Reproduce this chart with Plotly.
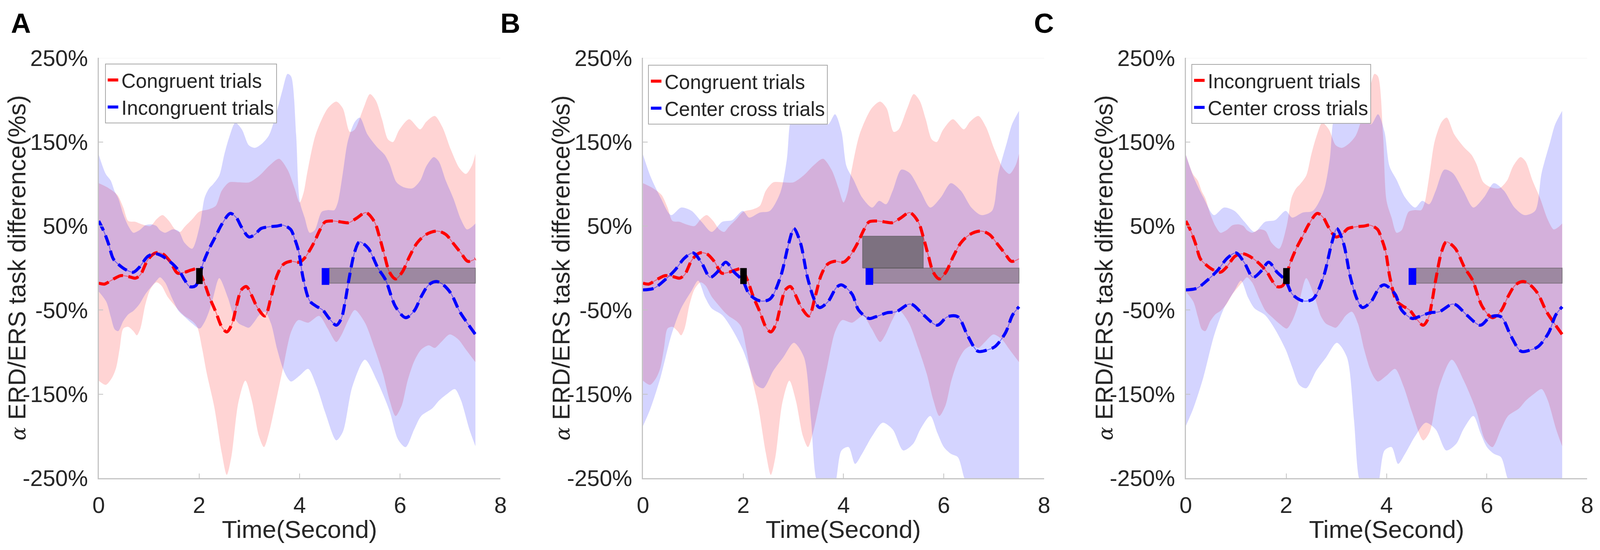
import plotly.graph_objects as go

# %%
# values: time (s) and alpha ERD/ERS task difference (%)
# congruent trials
cong_t = [0, 0.12, 0.24, 0.44, 0.59, 0.73, 0.83, 0.98, 1.13, 1.27,
          1.42, 1.57, 1.71, 1.86, 1.96, 2.08, 2.2, 2.33, 2.45, 2.55,
          2.65, 2.74, 2.84, 2.94, 3.04, 3.16, 3.31, 3.43, 3.55, 3.67,
          3.82, 4.0, 4.1, 4.2, 4.3, 4.41, 4.51, 4.66, 4.81, 4.98,
          5.15, 5.32, 5.49, 5.59, 5.69, 5.79, 5.91, 6.04, 6.19, 6.34,
          6.52, 6.74, 6.91, 7.05, 7.21, 7.35, 7.5]
cong_mean = [-18, -19, -15, -9, -10, -12, -8, 10, 18, 17,
             8, -6, -5, -2, -1, -14, -34, -52, -70, -76,
             -67, -46, -26, -22, -32, -47, -57, -35, -9, 4,
             8, 7, 12, 21, 32, 46, 55, 56, 55, 54,
             60, 66, 55, 37, 15, -5, -13, -5, 14, 30,
             40, 44, 40, 30, 18, 8, 11]
cong_up_t = [0, 0.2, 0.37, 0.49, 0.59, 0.73, 0.86, 1.03, 1.15, 1.27,
             1.4, 1.52, 1.62, 1.71, 1.86, 2.0, 2.2, 2.33, 2.45, 2.6,
             2.8, 3.0, 3.2, 3.4, 3.59, 3.76, 3.9, 4.0, 4.08, 4.15,
             4.32, 4.56, 4.73, 4.86, 5.0, 5.1, 5.27, 5.4, 5.52, 5.64,
             5.76, 5.86, 5.98, 6.18, 6.4, 6.52, 6.69, 6.84, 7.01, 7.18,
             7.31, 7.43, 7.5]
cong_up = [101, 95, 87, 72, 56, 55, 52, 50, 58, 63,
           56, 46, 43, 49, 58, 67, 70, 74, 92, 102,
           102, 102, 110, 122, 130, 117, 95, 78, 90, 113,
           159, 190, 198, 190, 162, 165, 190, 207, 199, 177,
           153, 150, 164, 177, 165, 174, 181, 168, 141, 119,
           112, 122, 136]
cong_lo_t = [0, 0.14, 0.27, 0.35, 0.42, 0.49, 0.59, 0.69, 0.76, 0.83,
             0.93, 1.03, 1.15, 1.25, 1.37, 1.49, 1.62, 1.71, 1.86, 1.96,
             2.06, 2.15, 2.3, 2.45, 2.55, 2.64, 2.78, 2.92, 3.05, 3.19,
             3.29, 3.39, 3.53, 3.67, 3.83, 3.97, 4.17, 4.39, 4.56, 4.73,
             4.83, 4.97, 5.1, 5.3, 5.49, 5.66, 5.79, 5.91, 6.03, 6.15,
             6.28, 6.42, 6.57, 6.69, 6.82, 6.99, 7.16, 7.31, 7.5]
cong_lo = [-134, -139, -130, -118, -95, -72, -70, -75, -80, -72,
           -43, -25, -17, -21, -34, -43, -52, -57, -63, -70,
           -96, -125, -165, -220, -246, -225, -160, -134, -158, -200,
           -213, -196, -158, -119, -76, -62, -65, -57, -72, -88,
           -80, -62, -50, -65, -95, -126, -157, -176, -164, -134,
           -111, -97, -92, -95, -88, -79, -85, -97, -112]

# incongruent trials
incg_t = [0, 0.1, 0.2, 0.29, 0.42, 0.54, 0.69, 0.81, 0.98, 1.13,
          1.27, 1.47, 1.62, 1.71, 1.81, 1.93, 2.08, 2.2, 2.33, 2.45,
          2.62, 2.74, 2.84, 2.99, 3.11, 3.23, 3.38, 3.55, 3.67, 3.82,
          3.9, 3.98, 4.07, 4.2, 4.32, 4.46, 4.59, 4.73, 4.83, 4.9,
          4.98, 5.1, 5.19, 5.36, 5.56, 5.71, 5.91, 6.11, 6.28, 6.42,
          6.57, 6.72, 6.84, 7.01, 7.18, 7.31, 7.5]
incg_mean = [56, 44, 28, 11, 3, -2, -5, 1, 14, 17,
             14, 5, -5, -14, -22, -21, 6, 23, 38, 52,
             65, 60, 49, 37, 40, 47, 49, 50, 51, 46,
             35, 20, -12, -39, -45, -50, -60, -68, -60, -42,
             -14, 20, 31, 24, 0, -14, -46, -59, -51, -34,
             -20, -16, -19, -30, -51, -63, -79]
incg_up_t = [0, 0.14, 0.24, 0.32, 0.39, 0.49, 0.59, 0.69, 0.81, 0.93,
             1.05, 1.15, 1.22, 1.32, 1.47, 1.59, 1.71, 1.86, 2.01, 2.11,
             2.2, 2.28, 2.4, 2.5, 2.6, 2.72, 2.85, 2.99, 3.11, 3.25,
             3.39, 3.53, 3.66, 3.76, 3.83, 3.93, 4.0, 4.1, 4.2, 4.3,
             4.44, 4.56, 4.69, 4.76, 4.86, 4.96, 5.1, 5.2, 5.35, 5.54,
             5.69, 5.79, 5.93, 6.08, 6.25, 6.4, 6.52, 6.67, 6.77, 6.91,
             7.06, 7.21, 7.33, 7.43, 7.5]
incg_up = [135, 112, 104, 91, 83, 64, 50, 42, 45, 51,
           52, 50, 45, 42, 46, 44, 30, 23, 50, 84,
           95, 100, 110, 135, 156, 173, 165, 146, 143, 148,
           158, 183, 212, 231, 228, 159, 80, 60, 42, 45,
           67, 69, 69, 78, 113, 151, 174, 179, 159, 144,
           135, 124, 102, 96, 95, 104, 121, 132, 127, 104,
           83, 58, 46, 49, 53]
incg_lo_t = [0, 0.15, 0.24, 0.32, 0.39, 0.49, 0.59, 0.69, 0.81, 0.93,
             1.05, 1.15, 1.22, 1.32, 1.47, 1.59, 1.71, 1.86, 2.01, 2.11,
             2.2, 2.28, 2.4, 2.57, 2.69, 2.79, 2.89, 2.99, 3.11, 3.18,
             3.31, 3.43, 3.55, 3.67, 3.75, 3.83, 4.0, 4.17, 4.34, 4.51,
             4.73, 4.86, 5.05, 5.3, 5.54, 5.79, 5.96, 6.11, 6.28, 6.42,
             6.64, 6.77, 6.93, 7.09, 7.21, 7.38, 7.5]
incg_lo = [-28, -40, -58, -73, -75, -63, -55, -51, -43, -31,
           -22, -15, -11, -17, -37, -51, -58, -66, -72, -64,
           -51, -35, -12, -35, -57, -66, -69, -71, -63, -57,
           -52, -66, -96, -120, -130, -135, -128, -120, -141, -172,
           -205, -195, -141, -109, -134, -170, -204, -213, -192, -176,
           -167, -158, -150, -144, -157, -192, -212]

# center cross trials
cross_t = [0, 0.22, 0.42, 0.63, 0.83, 1.0, 1.17, 1.34, 1.51, 1.65,
           1.82, 1.99, 2.12, 2.33, 2.53, 2.74, 2.91, 3.01, 3.14, 3.28,
           3.42, 3.52, 3.69, 3.86, 3.96, 4.17, 4.3, 4.51, 4.64, 4.88,
           5.05, 5.3, 5.39, 5.6, 5.87, 6.07, 6.28, 6.48, 6.68, 6.89,
           7.03, 7.23, 7.37, 7.5]
cross_mean = [-26, -24, -15, -3, 12, 18, 6, -11, -3, 7,
              -5, -15, -31, -39, -37, -11, 30, 47, 30, -11,
              -38, -47, -40, -23, -20, -31, -50, -60, -58, -53,
              -52, -43, -44, -56, -68, -58, -58, -81, -99, -97,
              -93, -77, -56, -46]
cross_up_t = [0, 0.15, 0.35, 0.56, 0.76, 0.97, 1.17, 1.37, 1.58, 1.78,
              1.99, 2.12, 2.33, 2.53, 2.74, 2.87, 2.94, 3.01, 3.28, 3.49,
              3.69, 3.83, 3.96, 4.06, 4.2, 4.37, 4.57, 4.71, 4.85, 4.98,
              5.15, 5.32, 5.53, 5.73, 5.94, 6.14, 6.34, 6.55, 6.75, 6.96,
              7.09, 7.26, 7.36, 7.5]
cross_up = [135, 109, 84, 63, 72, 68, 55, 43, 55, 57,
            68, 60, 66, 68, 90, 130, 175, 183, 179, 183,
            171, 183, 162, 121, 105, 84, 72, 80, 76, 92,
            117, 113, 92, 72, 84, 101, 92, 72, 63, 68,
            113, 150, 171, 187]
cross_lo_t = [0, 0.15, 0.35, 0.56, 0.76, 0.97, 1.1, 1.24, 1.37, 1.58,
              1.78, 1.99, 2.12, 2.26, 2.4, 2.6, 2.8, 3.01, 3.21, 3.35,
              3.45, 3.6, 3.8, 3.96, 4.1, 4.23, 4.37, 4.57, 4.78, 4.98,
              5.19, 5.39, 5.53, 5.73, 5.87, 6.0, 6.14, 6.28, 6.41, 6.6,
              6.9, 7.1, 7.3, 7.5]
cross_lo = [-188, -167, -130, -81, -48, -27, -15, -35, -48, -56,
            -73, -97, -118, -139, -143, -122, -106, -89, -106, -180,
            -250, -275, -265, -217, -213, -233, -221, -200, -184, -192,
            -217, -209, -192, -176, -196, -213, -221, -225, -250, -275,
            -285, -270, -262, -260]

# event markers [x0, x1, y0, y1]
cue_mark = [1.94, 2.07, -19, 0]
target_mark = [4.44, 4.59, -20, 0]
window_bar = [4.59, 7.5, -18, 0]
sig_box_b = [4.38, 5.59, 0, 38]

panel_letters = ["A", "B", "C"]
panel_series = [("cong", "incg"), ("cong", "cross"), ("incg", "cross")]
series_names = {"cong": "Congruent trials", "incg": "Incongruent trials",
                "cross": "Center cross trials"}
x_ticks = [0, 2, 4, 6, 8]
y_ticks = [-250, -150, -50, 50, 150, 250]
y_tick_text = ["-250%", "-150%", "-50%", "50%", "150%", "250%"]

series = {
    "cong": (cong_t, cong_mean, cong_up_t, cong_up, cong_lo_t, cong_lo),
    "incg": (incg_t, incg_mean, incg_up_t, incg_up, incg_lo_t, incg_lo),
    "cross": (cross_t, cross_mean, cross_up_t, cross_up, cross_lo_t, cross_lo),
}

# %%
# positions measured on the 4319x1409 reference, used as page fractions so
# the figure fills whatever window it is opened in
W, H = 4319, 1409
plot_left = [259, 1734, 3205]
plot_right = [1348, 2821, 4293]
plot_top, plot_bottom = 142, 1231
legend_pos = [(276, 157), (1748, 160), (3220, 158)]
ytitle_x = [37, 1512, 2983]
letter_x = [48, 1375, 2821]
S = 0.98  # scale for pixel sizes (fonts, widths)

FONT = "Liberation Sans, Arial, sans-serif"
TEXT = "#262626"
AXIS = "#c4c4c4"
colors = ["255,0,0", "0,0,255"]

fig = go.Figure()

for i, keys in enumerate(panel_series):
    n = "" if i == 0 else str(i + 1)
    xa, ya, leg = "x" + n, "y" + n, "legend" + n

    # shaded bands (lower edge, then upper edge filled down to it)
    for key, col in zip(keys, colors):
        t, m, ut, u, lt, lo = series[key]
        fig.add_trace(go.Scatter(
            x=lt, y=lo, mode="lines", xaxis=xa, yaxis=ya,
            line=dict(width=0, shape="spline", smoothing=0.8),
            showlegend=False, hoverinfo="skip"))
        fig.add_trace(go.Scatter(
            x=ut, y=u, mode="lines", xaxis=xa, yaxis=ya,
            line=dict(width=0, shape="spline", smoothing=0.8),
            fill="tonexty", fillcolor=f"rgba({col},0.17)",
            showlegend=False, hoverinfo="skip"))

    # grey window bars
    bars = [(window_bar, 0.42)]
    if i == 1:
        bars.append((sig_box_b, 0.66))
    for (x0, x1, y0, y1), a in bars:
        fig.add_trace(go.Scatter(
            x=[x0, x1, x1, x0, x0], y=[y0, y0, y1, y1, y0], mode="lines",
            xaxis=xa, yaxis=ya, fill="toself",
            fillcolor=f"rgba(80,80,80,{a})",
            line=dict(color="rgba(80,80,80,0.55)", width=2 * S),
            showlegend=False, hoverinfo="skip"))

    # mean curves: thin solid line under a thick dashed one
    for key, col in zip(keys, colors):
        t, m = series[key][0], series[key][1]
        fig.add_trace(go.Scatter(
            x=t, y=m, mode="lines", xaxis=xa, yaxis=ya,
            line=dict(color=f"rgba({col},0.45)", width=2.5 * S,
                      shape="spline", smoothing=0.9),
            showlegend=False, hoverinfo="skip"))
        fig.add_trace(go.Scatter(
            x=t, y=m, mode="lines", xaxis=xa, yaxis=ya,
            name=series_names[key], legend=leg,
            line=dict(color=f"rgb({col})", width=8 * S, dash="27px,14px",
                      shape="spline", smoothing=0.9)))

    # cue and target markers
    for (x0, x1, y0, y1), c in ((cue_mark, "black"), (target_mark, "#0000ff")):
        fig.add_shape(type="rect", xref=xa, yref=ya, x0=x0, x1=x1, y0=y0, y1=y1,
                      fillcolor=c, line_width=0, layer="above")
    # faint top frame line
    fig.add_shape(type="line", xref=xa, yref=ya, x0=0, x1=8, y0=250, y1=250,
                  line=dict(color="#efefef", width=2), layer="below")

    dom_x = [plot_left[i] / W, plot_right[i] / W]
    dom_y = [1 - plot_bottom / H, 1 - plot_top / H]
    fig.layout["xaxis" + n] = dict(
        domain=dom_x, anchor=ya, range=[0, 8], tickvals=x_ticks,
        automargin=False, showgrid=False, zeroline=False, showline=True,
        linecolor=AXIS, linewidth=3 * S, ticks="inside", ticklen=12 * S,
        tickwidth=2, tickcolor=AXIS,
        tickfont=dict(size=59 * S, color=TEXT, family=FONT),
        ticklabelstandoff=int(18 * S))
    fig.layout["yaxis" + n] = dict(
        domain=dom_y, anchor=xa, range=[-250, 250], tickvals=y_ticks,
        ticktext=y_tick_text, automargin=False, showgrid=False,
        zeroline=False, showline=True, linecolor=AXIS, linewidth=3 * S,
        ticks="inside", ticklen=12 * S, tickwidth=2, tickcolor=AXIS,
        tickfont=dict(size=59 * S, color=TEXT, family=FONT),
        ticklabelstandoff=int(14 * S))

    lx, ly = legend_pos[i]
    fig.layout[leg] = dict(
        x=lx / W, y=1 - ly / H, xanchor="left", yanchor="top",
        bgcolor="white", bordercolor="#a8a8a8", borderwidth=2,
        traceorder="normal", tracegroupgap=0,
        font=dict(size=52 * S, color=TEXT, family=FONT))

    # axis titles and panel letter (explicit anchors: 'auto' shifts them)
    fig.add_annotation(
        text="Time(Second)", xref="paper", yref="paper",
        x=(plot_left[i] + plot_right[i]) / 2 / W, y=1 - 1363 / H,
        xanchor="center", yanchor="middle", showarrow=False,
        font=dict(size=65 * S, color=TEXT, family=FONT))
    fig.add_annotation(
        text=f"<span style='font-family:DejaVu Serif;font-size:{int(54 * S)}px'>"
             "<i>α</i></span> ERD/ERS task difference(%s)",
        xref="paper", yref="paper", x=ytitle_x[i] / W, y=1 - 686 / H,
        xanchor="center", yanchor="middle", textangle=-90, showarrow=False,
        font=dict(size=64 * S, color=TEXT, family=FONT))
    fig.add_annotation(
        text=f"<b>{panel_letters[i]}</b>", xref="paper", yref="paper",
        x=letter_x[i] / W, y=1 - 52 / H, xanchor="center", yanchor="middle",
        showarrow=False, font=dict(size=72 * S, color="black", family=FONT))

fig.update_layout(
    template="none",
    autosize=True,
    margin=dict(l=0, r=0, t=0, b=0, pad=0),
    paper_bgcolor="white", plot_bgcolor="white",
    font=dict(family=FONT, color=TEXT),
)

fig.write_html("out.html")
